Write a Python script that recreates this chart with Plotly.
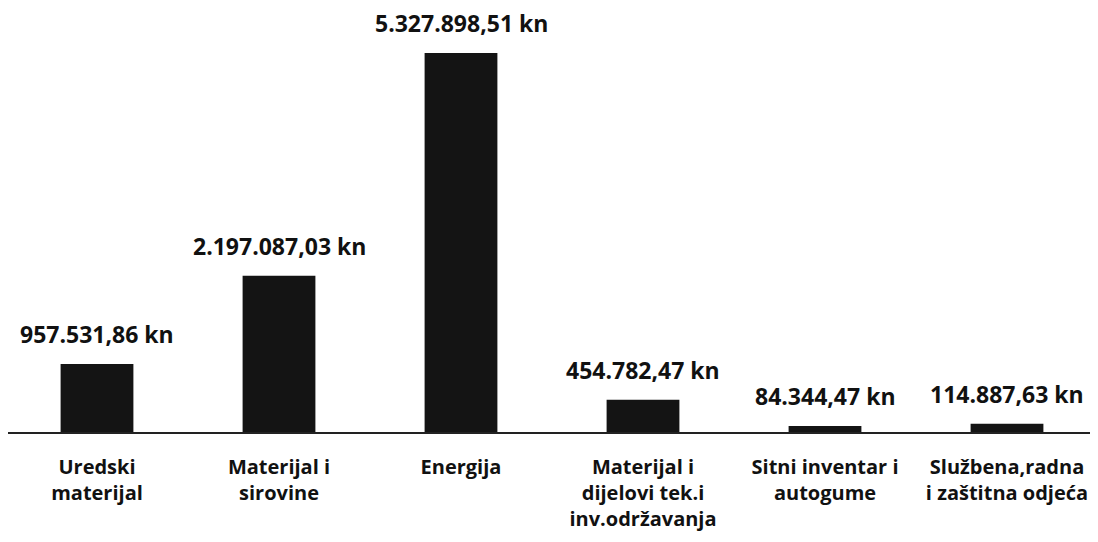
import plotly.graph_objects as go

categories = ["Uredski<br>materijal", "Materijal i<br>sirovine", "Energija",
              "Materijal i<br>dijelovi tek.i<br>inv.održavanja",
              "Sitni inventar i<br>autogume", "Službena,radna<br>i zaštitna odjeća"]
values = [957531.86, 2197087.03, 5327898.51, 454782.47, 84344.47, 114887.63]
value_labels = ["957.531,86 kn", "2.197.087,03 kn", "5.327.898,51 kn",
                "454.782,47 kn", "84.344,47 kn", "114.887,63 kn"]

FONT = "'Open Sans', Lato, sans-serif"

fig = go.Figure()
fig.add_trace(go.Bar(
    x=categories, y=values, width=0.4,
    marker=dict(color="#141414", line=dict(width=0)),
))
for c, v, t in zip(categories, values, value_labels):
    fig.add_annotation(x=c, y=v, text="<b>%s</b>" % t, showarrow=False,
                       yanchor="bottom", yshift=12,
                       font=dict(family=FONT, size=23, color="#111"))

fig.update_layout(
    width=1090, height=534,
    margin=dict(l=0, r=0, t=0, b=110, autoexpand=False),
    paper_bgcolor="white", plot_bgcolor="white",
    showlegend=False,
    font=dict(family=FONT, size=20, color="#111"),
    xaxis=dict(showline=True, linecolor="#222", linewidth=1.5, ticks="",
               range=[-0.489, 5.5],
               tickfont=dict(family=FONT, size=20, color="#111"),
               tickvals=categories,
               ticktext=["<b>%s</b>" % c for c in categories],
               ticklabelstandoff=16, showgrid=False, fixedrange=True,
               automargin=False),
    yaxis=dict(range=[0, 5.961e6], visible=False, showgrid=False, fixedrange=True,
               automargin=False),
)

fig.write_html("out.html")
